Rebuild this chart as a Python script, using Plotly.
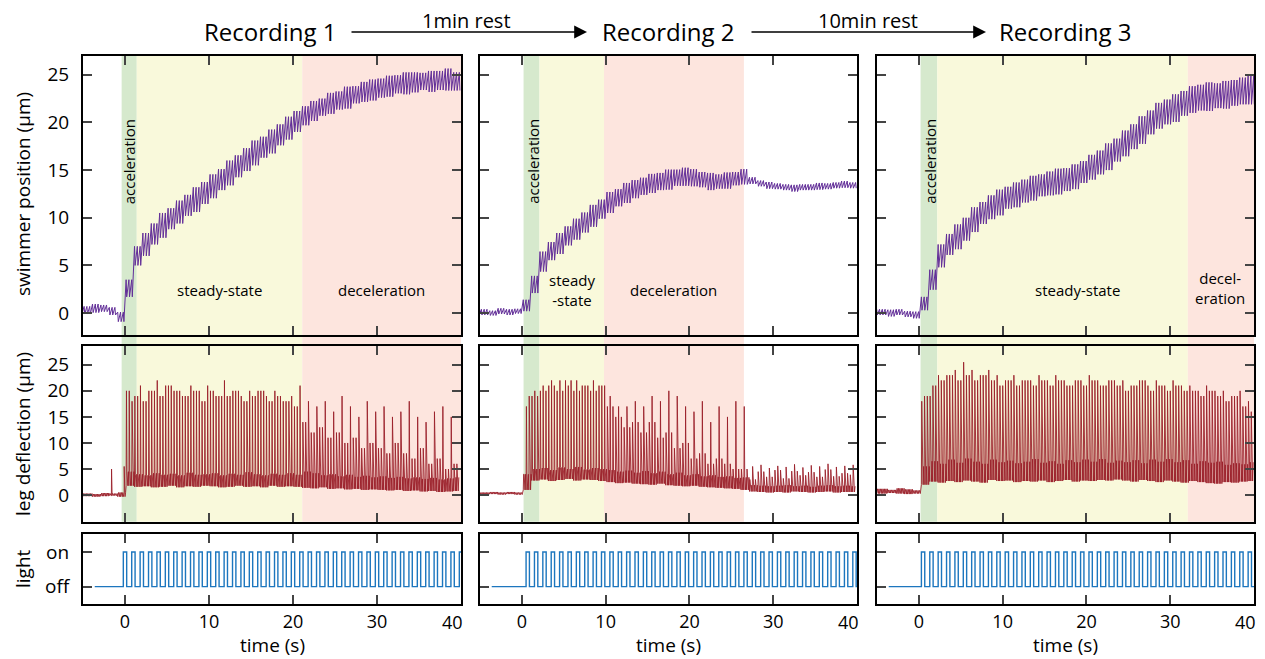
import math
import plotly.graph_objects as go
from plotly.subplots import make_subplots

# ---------------- data ----------------
seconds = list(range(-5, 40))          # one value per second bin [-5,-4) ... [39,40)
recordings = ["Recording 1", "Recording 2", "Recording 3"]
rest_labels = ["1min rest", "10min rest"]
time_ticks = [0, 10, 20, 30, 40]
time_tick_text = ["0", "10", "20", "30", "40"]

# light stimulus: onset (s), period (s), on-duration (s), trace start (s)
light_onset = [-0.2, 0.5, 0.3]
light_period = [1.0, 1.0, 1.0]
light_on_dur = [0.4, 0.4, 0.4]
light_trace_start = [-3.6, -3.6, -3.6]
strokes_per_s = [3, 3, 3]

# swimmer position: mid-line (um) and stroke swing (peak-to-peak, um)
pos_mid_r1 = [0.3, 0.5, 0.5, 0.2, -0.4, 2.6, 6.0, 7.2, 8.3, 9.2, 9.9, 10.6, 11.3, 11.9, 12.6,
              13.3, 14.0, 14.7, 15.4, 16.1, 16.8, 17.4, 18.0, 18.7, 19.4, 20.1, 20.7, 21.2, 21.6, 22.0,
              22.3, 22.6, 22.9, 23.2, 23.4, 23.6, 23.8, 24.0, 24.1, 24.2, 24.3, 24.3, 24.4, 24.5, 24.3]
pos_mid_r2 = [0.1, 0.0, 0.2, 0.1, 0.2, 0.8, 3.0, 5.4, 6.5, 7.3, 8.1, 8.8, 9.5, 10.2, 10.9,
              11.6, 12.1, 12.6, 13.0, 13.3, 13.6, 13.8, 14.0, 14.2, 14.3, 14.2, 14.0, 13.8, 13.8, 13.9,
              14.1, 14.3, 13.9, 13.6, 13.4, 13.3, 13.2, 13.1, 13.2, 13.2, 13.3, 13.3, 13.4, 13.5, 13.4]
pos_mid_r3 = [0.1, 0.0, 0.1, -0.1, -0.2, 1.0, 3.5, 6.0, 7.2, 8.0, 8.8, 9.8, 10.5, 11.1, 11.6,
              12.1, 12.4, 12.8, 13.1, 13.4, 13.6, 13.8, 14.0, 14.3, 14.8, 15.3, 15.8, 16.4, 17.1, 17.8,
              18.5, 19.2, 20.0, 20.7, 21.1, 21.5, 22.0, 22.4, 22.6, 22.7, 22.8, 22.9, 23.1, 23.3, 23.4]
pos_swing_r1 = [0.8, 0.9, 0.7, 0.8, 1.0, 1.8, 2.0, 2.4, 2.2, 2.6, 2.2, 2.4, 2.2, 2.6, 2.3,
                2.5, 2.2, 2.6, 2.3, 2.4, 2.6, 2.2, 2.5, 2.2, 2.4, 2.2, 2.0, 2.1, 1.8, 2.2,
                1.9, 2.3, 1.8, 2.1, 2.2, 2.0, 2.2, 1.9, 2.3, 2.1, 1.8, 2.2, 2.0, 2.3, 1.9]
pos_swing_r2 = [0.6, 0.5, 0.6, 0.6, 0.5, 1.2, 1.8, 2.1, 1.9, 2.2, 2.0, 2.2, 2.1, 2.3, 2.0,
                2.2, 1.8, 2.1, 1.9, 1.8, 2.0, 1.8, 2.1, 1.7, 1.9, 1.8, 1.6, 1.8, 1.5, 1.7,
                1.4, 1.6, 0.7, 0.6, 0.7, 0.6, 0.6, 0.7, 0.6, 0.6, 0.7, 0.6, 0.6, 0.7, 0.6]
pos_swing_r3 = [0.6, 0.7, 0.6, 0.6, 0.7, 1.4, 2.1, 2.4, 2.2, 2.6, 2.4, 2.6, 2.3, 2.5, 2.7,
                2.3, 2.6, 2.4, 2.6, 2.3, 2.5, 2.7, 2.4, 2.6, 2.3, 2.6, 2.5, 2.8, 2.4, 2.7,
                2.6, 2.9, 2.5, 2.7, 2.6, 2.9, 2.6, 2.8, 2.7, 3.0, 2.6, 2.9, 2.7, 2.8, 3.0]

# leg deflection: tall-spike height, other-spike height, baseline low, baseline high (um)
leg_major_r1 = [0, 0, 0, 0, 0, 18, 21, 20, 22, 21, 20, 19, 21, 20, 21,
                19, 22, 20, 19, 20, 20, 19, 20, 18, 19, 21, 18, 17, 18, 16,
                19, 17, 15, 18, 16, 17, 15, 16, 18, 15, 14, 16, 17, 15, 16]
leg_minor_r1 = [0, 0, 0, 0, 0, 20, 19, 18, 20, 19, 21, 20, 19, 20, 18,
                20, 19, 19, 20, 18, 19, 20, 18, 19, 18, 17, 14, 12, 13, 11,
                12, 10, 11, 9, 10, 9, 8, 10, 8, 7, 9, 6, 7, 5, 6]
leg_lo_r1 = [-0.2, -0.3, -0.2, -0.1, -0.3, 1.8, 1.6, 1.7, 1.5, 1.6, 1.8, 1.5, 1.7, 1.6, 1.8,
             1.7, 1.5, 1.6, 1.8, 1.6, 1.7, 1.5, 1.8, 1.6, 1.7, 1.6, 1.4, 1.3, 1.5, 1.2,
             1.3, 1.1, 1.2, 1.0, 1.1, 1.0, 0.9, 1.0, 0.8, 0.9, 0.7, 0.8, 0.6, 0.7, 0.8]
leg_hi_r1 = [0.3, 0.2, 0.4, 0.3, 0.5, 4.5, 4.0, 3.8, 4.2, 3.9, 4.1, 3.8, 4.3, 3.9, 4.0,
             4.2, 3.8, 4.1, 3.9, 4.4, 4.0, 3.8, 4.1, 3.9, 4.2, 3.9, 4.5, 4.2, 3.8, 4.0,
             3.6, 3.9, 3.5, 3.7, 3.4, 3.6, 3.3, 3.5, 3.2, 3.4, 3.1, 3.3, 3.0, 3.2, 3.4]
leg_pre_spike_t_r1 = [-1.6, -0.1]
leg_pre_spike_h_r1 = [5.0, 5.5]

leg_major_r2 = [0, 0, 0, 0, 0, 17, 20, 21, 22, 22, 21, 22, 21, 22, 21,
                19, 17, 17, 18, 17, 19, 18, 20, 19, 17, 16, 18, 14, 17, 15,
                18, 17, 5.5, 5.8, 5.2, 5.6, 5.4, 5.9, 5.3, 5.7, 5.5, 6.0, 5.4, 5.6, 5.8]
leg_minor_r2 = [0, 0, 0, 0, 0, 19, 19, 20, 21, 20, 22, 20, 21, 20, 21,
                17, 15, 13, 14, 12, 14, 11, 12, 9, 10, 7, 8, 6, 7, 6,
                5, 5, 3.0, 4.5, 3.5, 4.8, 3.2, 4.6, 3.8, 4.4, 3.5, 4.9, 3.6, 4.2, 3.9]
leg_lo_r2 = [0.1, 0.2, 0.1, 0.2, 0.1, 1.0, 2.8, 3.0, 2.7, 2.9, 3.1, 2.8, 3.0, 2.9, 2.7,
             2.5, 2.3, 2.4, 2.2, 2.1, 2.0, 2.2, 1.9, 1.8, 1.7, 1.8, 1.6, 1.5, 1.4, 1.3,
             1.2, 1.0, 0.7, 0.6, 0.5, 0.6, 0.5, 0.7, 0.6, 0.5, 0.6, 0.7, 0.5, 0.6, 0.6]
leg_hi_r2 = [0.5, 0.6, 0.5, 0.6, 0.5, 4.0, 5.0, 5.2, 4.8, 5.3, 5.0, 5.4, 4.9, 5.2, 5.0,
             4.8, 4.5, 4.7, 4.3, 4.6, 4.2, 4.5, 4.0, 4.3, 3.8, 4.0, 3.6, 3.8, 3.5, 3.6,
             3.3, 3.4, 1.9, 1.8, 1.7, 1.8, 1.9, 1.7, 1.8, 1.6, 1.8, 1.9, 1.7, 1.8, 1.7]

leg_major_r3 = [0, 0, 0, 0, 0, 18, 19, 23, 23, 24, 25.5, 24, 23, 24, 23,
                22, 23, 22, 22, 23, 22, 23, 22, 21, 22, 23, 22, 21, 22, 22,
                21, 22, 21, 22, 21, 22, 21, 21, 20, 21, 20, 20, 19, 20, 18]
leg_minor_r3 = [0, 0, 0, 0, 0, 19, 21, 22, 23, 22, 23, 22, 23, 22, 21,
                22, 21, 22, 21, 22, 21, 22, 21, 22, 21, 22, 21, 22, 21, 20,
                21, 22, 20, 21, 20, 21, 20, 20, 19, 20, 19, 18, 19, 17, 16]
leg_lo_r3 = [0.3, 0.4, 0.3, 0.2, 0.3, 2.0, 2.6, 2.4, 2.7, 2.5, 2.8, 2.6, 2.4, 2.9, 2.7,
             2.8, 2.5, 2.7, 2.6, 2.8, 2.5, 2.7, 2.9, 2.6, 2.8, 2.7, 2.9, 2.8, 3.0, 2.8,
             2.6, 2.9, 2.7, 2.5, 2.8, 2.6, 2.4, 2.7, 2.5, 2.3, 2.2, 2.5, 2.4, 2.6, 2.7]
leg_hi_r3 = [1.2, 1.0, 1.3, 1.1, 0.9, 5.5, 6.5, 6.0, 6.8, 6.2, 7.0, 6.4, 6.0, 6.8, 6.3,
             6.6, 6.1, 6.4, 6.9, 6.2, 6.5, 6.0, 6.7, 6.3, 6.8, 6.4, 6.9, 6.2, 6.6, 6.3,
             6.7, 6.1, 6.8, 6.4, 6.9, 6.3, 6.7, 6.0, 6.5, 6.2, 6.4, 5.8, 6.1, 5.9, 6.3]

# phase bands (s)
accel_band = [(-0.4, 1.4), (0.2, 2.1), (0.2, 2.2)]
steady_band = [(1.4, 21.1), (2.1, 9.8), (2.2, 32.1)]
decel_band = [(21.1, 40.0), (9.8, 26.5), (32.1, 40.0)]

pos_mid = [pos_mid_r1, pos_mid_r2, pos_mid_r3]
pos_swing = [pos_swing_r1, pos_swing_r2, pos_swing_r3]
leg_major = [leg_major_r1, leg_major_r2, leg_major_r3]
leg_minor = [leg_minor_r1, leg_minor_r2, leg_minor_r3]
leg_lo = [leg_lo_r1, leg_lo_r2, leg_lo_r3]
leg_hi = [leg_hi_r1, leg_hi_r2, leg_hi_r3]

# ---------------- styling ----------------
FONT = "Open Sans"
PAGE_OFF = 8                 # default page margin of the browser around the figure
W, H = 1265 - PAGE_OFF, 659 - PAGE_OFF
C_POS = "rgb(98,46,152)"
C_LEG = "rgb(155,32,42)"
C_LIGHT = "rgb(28,118,190)"
C_ACC = "rgb(214,233,205)"
C_STEADY = "rgb(249,249,219)"
C_DECEL = "rgb(253,229,222)"

def px(x):
    return (x - PAGE_OFF) / W

def py(y):
    return 1 - (y - PAGE_OFF) / H

col_px = [(83, 461), (480, 857), (877, 1254)]
row_px = [(55.7, 335), (346, 521.7), (534, 604)]
T0, T1 = -5, 40

fig = make_subplots(rows=3, cols=3)

def bin_index(t):
    i = int(math.floor(t)) - T0
    return max(0, min(len(seconds) - 1, i))

def stroke_list(c):
    rate = strokes_per_s[c]
    onset = light_onset[c]
    j0 = -int((onset - T0) * rate) - 1
    j1 = int((T1 - onset) * rate) + 1
    return [(j, onset + j / rate) for j in range(j0, j1 + 1) if T0 - 0.4 <= onset + j / rate <= T1]

for c in range(3):
    strokes = stroke_list(c)

    # swimmer position: quick backward dip at each stroke, then recovery
    xs, ys = [], []
    for j, t in strokes:
        i = bin_index(t)
        m, s = pos_mid[c][i], pos_swing[c][i]
        xs += [t, t + 0.07]
        ys += [m + s / 2, m - s / 2]
    fig.add_trace(go.Scatter(x=xs, y=ys, mode="lines", line=dict(color=C_POS, width=1.0),
                             hoverinfo="skip", showlegend=False), row=1, col=c + 1)

    # leg deflection
    pts = []
    for j, t in strokes:
        if t > T1 - 0.3:
            continue
        i = bin_index(t)
        lo, hi = leg_lo[c][i], leg_hi[c][i]
        if t >= light_onset[c]:
            peak = leg_major[c][i] if j % 3 == 0 else leg_minor[c][i]
        else:
            peak = hi
        pts += [(t, lo), (t + 0.04, peak), (t + 0.1, hi), (t + 0.2, lo), (t + 0.27, hi)]
    if c == 0:
        for ts, hs in zip(leg_pre_spike_t_r1, leg_pre_spike_h_r1):
            i = bin_index(ts)
            pts += [(ts - 0.02, leg_lo[c][i]), (ts, hs), (ts + 0.03, leg_lo[c][i])]
    pts.sort(key=lambda p: p[0])
    fig.add_trace(go.Scatter(x=[p[0] for p in pts], y=[p[1] for p in pts], mode="lines",
                             line=dict(color=C_LEG, width=0.9), hoverinfo="skip", showlegend=False),
                  row=2, col=c + 1)

    # light
    lx, ly = [light_trace_start[c]], [0]
    t = light_onset[c]
    while t <= T1:
        lx += [t, t, t + light_on_dur[c], t + light_on_dur[c]]
        ly += [0, 1, 1, 0]
        t += light_period[c]
    lx.append(T1)
    ly.append(0)
    fig.add_trace(go.Scatter(x=lx, y=ly, mode="lines", line=dict(color=C_LIGHT, width=1.4),
                             hoverinfo="skip", showlegend=False), row=3, col=c + 1)

# axes (the last time label is placed separately, right-aligned to the axis end)
yranges = [[-2.3, 27], [-5.1, 28.6], [-0.5, 1.52]]
for r in range(3):
    for c in range(3):
        n = r * 3 + c + 1
        xa = "xaxis" if n == 1 else f"xaxis{n}"
        ya = "yaxis" if n == 1 else f"yaxis{n}"
        fig.layout[xa].update(
            domain=[px(col_px[c][0]), px(col_px[c][1])], range=[T0, T1], automargin=False,
            tickvals=time_ticks, ticktext=time_tick_text[:-1] + [""],
            ticks="inside", ticklen=9, tickwidth=2,
            showline=True, linewidth=2, linecolor="black", mirror="ticks",
            showgrid=False, zeroline=False, showticklabels=(r == 2),
            tickfont=dict(family=FONT, size=18, color="black"), ticklabelstandoff=0)
        yd = dict(domain=[py(row_px[r][1]), py(row_px[r][0])], range=yranges[r], automargin=False,
                  ticks="inside", ticklen=9, tickwidth=2, showline=True, linewidth=2,
                  linecolor="black", showgrid=False, zeroline=False,
                  showticklabels=(c == 0), tickfont=dict(family=FONT, size=19, color="black"),
                  ticklabelstandoff=8)
        if r < 2:
            yd.update(tickvals=[0, 5, 10, 15, 20, 25], mirror="ticks")
        else:
            yd.update(tickvals=[0, 1], ticktext=["off", "on"], mirror=True)
        fig.layout[ya].update(**yd)

# phase bands spanning position + leg rows
shapes = []
for c in range(3):
    xref = "x" if c == 0 else f"x{c + 1}"
    for band, col in ((accel_band, C_ACC), (steady_band, C_STEADY), (decel_band, C_DECEL)):
        shapes.append(dict(type="rect", xref=xref, yref="paper", x0=band[c][0], x1=band[c][1],
                           y0=py(row_px[1][1]), y1=py(row_px[0][0]), fillcolor=col,
                           line=dict(width=0), layer="below"))
fig.update_layout(shapes=shapes)

ann = []
def txt(text, x, y, size, xref="paper", yref="paper", angle=0, yanchor="middle", xanchor="center"):
    ann.append(dict(text=text, x=x, y=y, xref=xref, yref=yref, showarrow=False,
                    textangle=angle, font=dict(family=FONT, size=size, color="black"),
                    xanchor=xanchor, yanchor=yanchor, borderpad=0))

# phase labels
phase_labels = [
    [("acceleration", 0.45, 15.9, -90), ("steady-state", 11.3, 2.45, 0), ("deceleration", 30.5, 2.45, 0)],
    [("acceleration", 1.25, 15.9, -90), ("steady<br>-state", 5.95, 2.45, 0), ("deceleration", 18.1, 2.45, 0)],
    [("acceleration", 1.25, 15.9, -90), ("steady-state", 18.9, 2.45, 0), ("decel-<br>eration", 35.9, 2.6, 0)],
]
for c in range(3):
    xr = "x" if c == 0 else f"x{c + 1}"
    yr = "y" if c == 0 else f"y{c + 1}"
    for text, x, y, a in phase_labels[c]:
        txt(text, x, y, 15, xref=xr, yref=yr, angle=a)

# last time tick label of each column, right-aligned at the axis end
for c in range(3):
    txt(time_tick_text[-1], px(col_px[c][1] + 3), py(621.5), 18, xanchor="right")

# headers
header_x = [270, 668, 1065]
for c in range(3):
    txt(recordings[c], px(header_x[c]), py(31), 24)
arrow_px = [(350, 587), (750, 986)]
rest_x = [466, 868]
for k in range(2):
    ann.append(dict(x=px(arrow_px[k][1]), y=py(32), ax=-(arrow_px[k][1] - arrow_px[k][0]), ay=0,
                    xref="paper", yref="paper", axref="pixel", ayref="pixel", text="",
                    showarrow=True, arrowhead=2, arrowsize=1.6, arrowwidth=1.6, arrowcolor="black"))
    txt(rest_labels[k], px(rest_x[k]), py(21), 20)

# axis titles
for c in range(3):
    txt("time (s)", px((col_px[c][0] + col_px[c][1]) / 2), py(645), 19)
txt("swimmer position (μm)", px(23), py(194), 19, angle=-90)
txt("leg deflection (μm)", px(23), py(434), 19, angle=-90)
txt("light", px(23), py(569), 19, angle=-90)

fig.update_layout(annotations=ann, width=W, height=H, margin=dict(l=0, r=0, t=0, b=0),
                  paper_bgcolor="white", plot_bgcolor="rgba(0,0,0,0)",
                  font=dict(family=FONT, color="black"), showlegend=False)

fig.write_html("out.html")
